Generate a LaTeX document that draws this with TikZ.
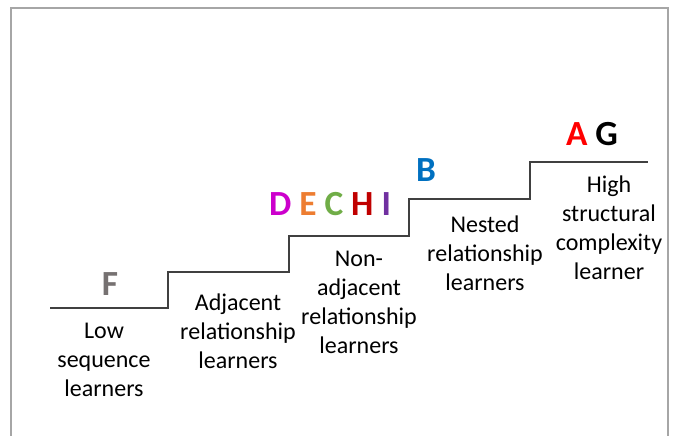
\documentclass[tikz,border=0pt]{standalone}
\usepackage{fontspec}
\setmainfont{Carlito}
\usepackage{xcolor}
\usepackage{tikz}
\definecolor{frameGray}{HTML}{A6A6A6}
\definecolor{stairGray}{HTML}{404040}
\definecolor{fGray}{HTML}{767171}
\definecolor{dMag}{HTML}{CC00CC}
\definecolor{eOrange}{HTML}{ED7D31}
\definecolor{cGreen}{HTML}{70AD47}
\definecolor{hRed}{HTML}{C00000}
\definecolor{iPurple}{HTML}{7030A0}
\definecolor{bBlue}{HTML}{0070C0}
\definecolor{aRed}{HTML}{FF0000}

\begin{document}
\begin{tikzpicture}[
    x=0.75pt, y=-0.75pt,
    level/.style={inner sep=0pt, align=center, font=\fontsize{18}{21.7}\selectfont},
    grade/.style={inner sep=0pt, font=\fontsize{26.5}{30}\selectfont\bfseries},
    stairs/.style={draw=stairGray, line width=1.5pt},
    border/.style={draw=frameGray, line width=2.2pt}
  ]
  \useasboundingbox (0,0) rectangle (677,435);
  \draw[border] (11,440) -- (11,8) -- (668,8) -- (668,440);

  % Staircase
  \draw[stairs] (50,308) -- (168,308) -- (168,272) -- (289,272) -- (289,236)
    -- (409,236) -- (409,199) -- (530,199) -- (530,162) -- (648,162);

  % Grades above each step
  \node[grade, text=fGray] (f) at (110,284) {F};
  \node[grade] (dechi) at (330,204) {\textcolor{dMag}{D} \textcolor{eOrange}{E} \textcolor{cGreen}{C} \textcolor{hRed}{H} \textcolor{iPurple}{I}};
  \node[grade, text=bBlue] (b) at (426,170) {B};
  \node[grade] (ag) at (592,134) {\textcolor{aRed}{A} G};

  % Learner types below each step
  \node[level] (low) at (104,360) {Low\\sequence\\learners};
  \node[level] (adj) at (238,331) {Adjacent\\relationship\\learners};
  \node[level] (nonadj) at (359,302) {Non-\\adjacent\\relationship\\learners};
  \node[level] (nest) at (485,253) {Nested\\relationship\\learners};
  \node[level] (high) at (609,228) {High\\structural\\complexity\\learner};
\end{tikzpicture}
\end{document}
